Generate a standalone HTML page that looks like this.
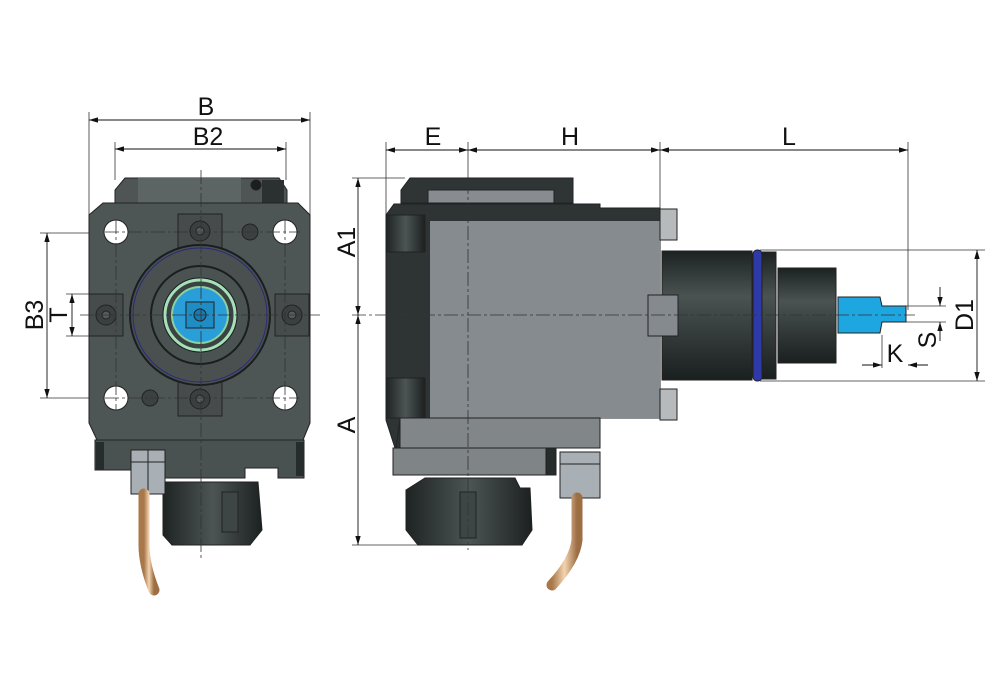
<!DOCTYPE html>
<html><head><meta charset="utf-8"><style>
html,body{margin:0;padding:0;background:#fff;width:1000px;height:694px;overflow:hidden}
svg{display:block}
text{font-family:"Liberation Sans",sans-serif;font-size:25px;fill:#111}
</style></head><body>
<svg width="1000" height="694" viewBox="0 0 1000 694" xmlns="http://www.w3.org/2000/svg">
<defs>
<marker id="a" viewBox="0 0 10 6" refX="10" refY="3" markerWidth="10" markerHeight="6" orient="auto-start-reverse"><path d="M0,0L10,3L0,6z" fill="#111"/></marker>
<linearGradient id="cyl" x1="0" y1="0" x2="0" y2="1"><stop offset="0" stop-color="#1c2222"/><stop offset=".35" stop-color="#4a5252"/><stop offset="1" stop-color="#1a1f1f"/></linearGradient>
<linearGradient id="nut" x1="0" y1="0" x2="1" y2="0"><stop offset="0" stop-color="#1e2323"/><stop offset=".5" stop-color="#4c5454"/><stop offset="1" stop-color="#1c2020"/></linearGradient>
<linearGradient id="cu" x1="0" y1="0" x2="1" y2="0"><stop offset="0" stop-color="#a8784a"/><stop offset=".5" stop-color="#f3d4b0"/><stop offset="1" stop-color="#9c6e44"/></linearGradient>
</defs>
<g stroke="#333" stroke-width="0.8" fill="none">
<line x1="89" y1="112" x2="89" y2="215"/><line x1="310" y1="112" x2="310" y2="215"/>
<line x1="115" y1="142" x2="115" y2="180"/><line x1="286" y1="142" x2="286" y2="180"/>
<line x1="40" y1="233" x2="110" y2="233"/><line x1="40" y1="398" x2="110" y2="398"/>
<line x1="66" y1="294" x2="95" y2="294"/><line x1="66" y1="336" x2="95" y2="336"/>
<line x1="386" y1="142" x2="386" y2="215"/><line x1="468" y1="142" x2="468" y2="180"/>
<line x1="660" y1="142" x2="660" y2="210"/><line x1="908" y1="142" x2="908" y2="310"/>
<line x1="352" y1="178" x2="405" y2="178"/><line x1="352" y1="545" x2="420" y2="545"/>
<line x1="760" y1="250" x2="985" y2="250"/><line x1="760" y1="381" x2="985" y2="381"/>
<line x1="906" y1="306" x2="946" y2="306"/><line x1="906" y1="322" x2="946" y2="322"/>
<line x1="882" y1="335" x2="882" y2="368"/>
</g>
<!-- LEFT VIEW -->
<g stroke="#222" stroke-width="1">
<path d="M125,178 L279,178 L287,190 L287,204 L115,204 L115,190Z" fill="#4f5555"/>
<rect x="138" y="178" width="103" height="26" fill="#5d6464" stroke="none"/>
<rect x="262" y="180" width="22" height="23" fill="#2b3131" stroke="none"/>
<circle cx="256" cy="185" r="5" fill="#1a1e1e"/>
<path d="M103,203 L298,203 L310,215 L310,423 L303,440 L97,440 L89,423 L89,215Z" fill="#4e5555"/>
<path d="M95,440 L304,440 L304,478 L278,478 L278,468 L245,468 L245,478 L133,478 L133,470 L95,470Z" fill="#4a5151"/>
<rect x="96" y="442" width="8" height="28" fill="#262b2b" stroke="none"/>
<rect x="296" y="442" width="8" height="34" fill="#262b2b" stroke="none"/>
<path d="M163,482 L258,482 L262,530 L250,545 L172,545 L163,535Z" fill="url(#nut)"/>
<rect x="222" y="492" width="16" height="40" fill="#3e4545"/>
<rect x="178" y="214" width="44" height="34" fill="#464c4c"/>
<rect x="178" y="382" width="44" height="34" fill="#464c4c"/>
<rect x="89" y="294" width="34" height="42" fill="#464c4c"/>
<rect x="275" y="294" width="34" height="42" fill="#464c4c"/>
<g fill="#3a4040"><circle cx="200" cy="231" r="10"/><circle cx="200" cy="399" r="10"/><circle cx="106" cy="315" r="10"/><circle cx="292" cy="315" r="10"/></g>
<g fill="#555c5c"><circle cx="200" cy="231" r="4"/><circle cx="200" cy="399" r="4"/><circle cx="106" cy="315" r="4"/><circle cx="292" cy="315" r="4"/></g>
<circle cx="250" cy="232" r="8" fill="#3b4141"/><circle cx="150" cy="398" r="8" fill="#3b4141"/>
<g fill="#fff"><circle cx="116" cy="232" r="12"/><circle cx="285" cy="232" r="12"/><circle cx="116" cy="398" r="12"/><circle cx="285" cy="398" r="12"/></g>
<circle cx="200" cy="315" r="70" fill="#4a5050" stroke="#1a1e1e" stroke-width="2"/>
<circle cx="200" cy="315" r="67" fill="none" stroke="#2a2a7a" stroke-width="1"/>
<circle cx="200" cy="315" r="49" fill="#4b5252" stroke="#1a1e1e" stroke-width="2"/>
<circle cx="200" cy="315" r="37" fill="#2f3636" stroke="#1a1e1e"/>
<circle cx="200" cy="315" r="35" fill="#3a4242" stroke="#a6e0b8" stroke-width="3"/>
<circle cx="200" cy="315" r="28" fill="#2a9ed8" stroke="#8cd0a0" stroke-width="2"/>
<rect x="186" y="302" width="28" height="26" fill="#1f8cc4"/>
<circle cx="200" cy="315" r="6" fill="#1a7ab0"/>
<rect x="131" y="450" width="34" height="44" fill="#a9b0b5"/>
<line x1="131" y1="462" x2="165" y2="462"/><line x1="148" y1="450" x2="148" y2="494"/>
</g>
<path d="M144,494 L144,545 Q144,565 154,590" stroke="url(#cu)" stroke-width="11" fill="none" stroke-linecap="round"/>
<!-- RIGHT VIEW -->
<g stroke="#222" stroke-width="1">
<path d="M410,178 L573,178 L573,203 L401,203 L401,190Z" fill="#2f3535"/>
<rect x="428" y="190" width="126" height="13" fill="#878c90"/>
<path d="M394,204 L600,204 L600,208 L660,208 L660,418 L600,418 L600,448 L395,448 L386,420 L386,215Z" fill="#2e3434"/>
<rect x="430" y="221" width="230" height="197" fill="#868b8f" stroke="none"/>
<rect x="400" y="418" width="200" height="30" fill="#818689"/>
<path d="M400,420 L396,448 L400,448Z" fill="#2e3434"/>
<rect x="393" y="448" width="163" height="27" fill="#7f8487"/>
<rect x="546" y="448" width="10" height="27" fill="#262b2b"/>
<path d="M386,215 L425,215 L425,252 L386,252Z" fill="url(#nut)"/>
<path d="M386,378 L425,378 L425,418 L386,418Z" fill="url(#nut)"/>
<path d="M425,478 L515,478 L520,488 L530,488 L532,530 L522,545 L418,545 L406,530 L406,490Z" fill="url(#nut)"/>
<rect x="460" y="492" width="16" height="46" fill="#3e4545"/>
<rect x="660" y="209" width="17" height="31" fill="#b6babd"/>
<rect x="660" y="389" width="17" height="31" fill="#b6babd"/>
<rect x="662" y="251" width="90" height="129" fill="url(#cyl)"/>
<rect x="648" y="295" width="30" height="41" fill="#858a8e"/>
<rect x="753" y="250" width="9" height="131" rx="4" fill="#2e3aa8"/>
<rect x="762" y="252" width="14" height="127" fill="url(#cyl)"/>
<rect x="778" y="268" width="58" height="95" fill="url(#cyl)"/>
<path d="M838,297 L880,297 L882,306 L906,306 L906,322 L882,322 L880,333 L838,333Z" fill="#1ea6e0"/>
<rect x="560" y="452" width="40" height="46" fill="#a9b0b5"/>
<line x1="560" y1="464" x2="600" y2="464"/>
</g>
<path d="M577,498 L577,540 Q575,560 552,585" stroke="url(#cu)" stroke-width="11" fill="none" stroke-linecap="round"/>
<g stroke="#333" stroke-width="0.8" stroke-dasharray="14,3,3,3" fill="none">
<line x1="201" y1="170" x2="201" y2="560"/><line x1="80" y1="315" x2="320" y2="315"/>
<line x1="105" y1="232" x2="300" y2="232"/><line x1="105" y1="398" x2="300" y2="398"/>
<line x1="116" y1="220" x2="116" y2="410"/><line x1="285" y1="220" x2="285" y2="410"/>
<line x1="468" y1="180" x2="468" y2="550"/><line x1="352" y1="315" x2="915" y2="315"/>
</g>
<g stroke="#111" stroke-width="0.9" fill="none">
<line x1="89" y1="120" x2="310" y2="120" marker-start="url(#a)" marker-end="url(#a)"/>
<line x1="115" y1="149" x2="286" y2="149" marker-start="url(#a)" marker-end="url(#a)"/>
<line x1="47" y1="233" x2="47" y2="398" marker-start="url(#a)" marker-end="url(#a)"/>
<line x1="72" y1="294" x2="72" y2="336" marker-start="url(#a)" marker-end="url(#a)"/>
<line x1="386" y1="150" x2="468" y2="150" marker-start="url(#a)" marker-end="url(#a)"/>
<line x1="468" y1="150" x2="660" y2="150" marker-start="url(#a)" marker-end="url(#a)"/>
<line x1="660" y1="150" x2="908" y2="150" marker-start="url(#a)" marker-end="url(#a)"/>
<line x1="358" y1="178" x2="358" y2="315" marker-start="url(#a)" marker-end="url(#a)"/>
<line x1="358" y1="315" x2="358" y2="545" marker-start="url(#a)" marker-end="url(#a)"/>
<line x1="977" y1="250" x2="977" y2="381" marker-start="url(#a)" marker-end="url(#a)"/>
<line x1="940" y1="287" x2="940" y2="306" marker-end="url(#a)"/>
<line x1="940" y1="341" x2="940" y2="322" marker-end="url(#a)"/>
<line x1="862" y1="365" x2="882" y2="365" marker-end="url(#a)"/>
<line x1="928" y1="365" x2="908" y2="365" marker-end="url(#a)"/>
</g>
<text x="206" y="115" text-anchor="middle">B</text>
<text x="208" y="145" text-anchor="middle">B2</text>
<text x="433" y="145" text-anchor="middle">E</text>
<text x="570" y="145" text-anchor="middle">H</text>
<text x="789" y="145" text-anchor="middle">L</text>
<text transform="translate(43,315) rotate(-90)" text-anchor="middle">B3</text>
<text transform="translate(67,315) rotate(-90)" text-anchor="middle">T</text>
<text transform="translate(355,242) rotate(-90)" text-anchor="middle">A1</text>
<text transform="translate(355,425) rotate(-90)" text-anchor="middle">A</text>
<text transform="translate(973,315) rotate(-90)" text-anchor="middle">D1</text>
<text transform="translate(936,340) rotate(-90)" text-anchor="middle">S</text>
<text x="895" y="362" text-anchor="middle">K</text>
</svg>
</body></html>
